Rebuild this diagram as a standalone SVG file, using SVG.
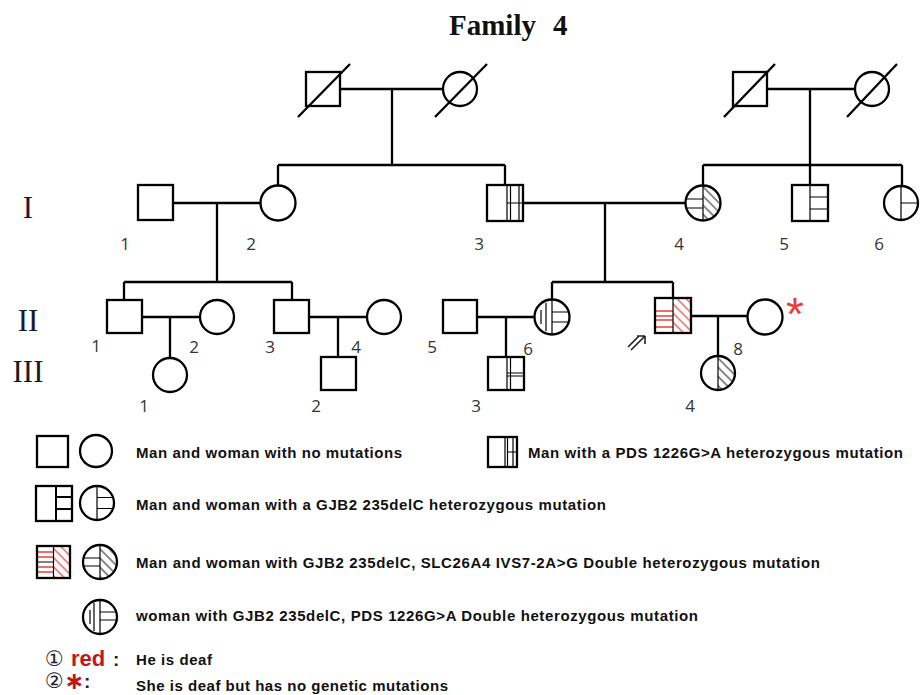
<svg xmlns="http://www.w3.org/2000/svg" width="920" height="695" viewBox="0 0 920 695">
<style>
.s{fill:#fff;stroke:#000;stroke-width:2.3}
.n{fill:none;stroke:#000;stroke-width:2.3}
.t{stroke:#000;stroke-width:1.2;fill:none}
.r{stroke:#e8403a;stroke-width:1.4;fill:none}
.c{stroke:#000;stroke-width:2.3;fill:none}
.lbl{font-family:"Open Sans","Liberation Sans",sans-serif;font-size:17px;fill:#333;text-anchor:middle}
.gen{font-family:"Liberation Serif",serif;font-size:31px;fill:#1a1a2a;text-anchor:middle}
.lg{font-family:"Liberation Sans",Arial,sans-serif;font-size:15px;font-weight:bold;fill:#111}
.ttl{font-family:"Liberation Serif",serif;font-weight:bold;font-size:29px;fill:#111}
.num{font-family:"DejaVu Sans",sans-serif;font-size:21px;fill:#222}
</style>
<defs>
<pattern id="hb" width="6.5" height="6.5" patternUnits="userSpaceOnUse" patternTransform="rotate(-45)"><line x1="1" y1="0" x2="1" y2="6.5" stroke="#000" stroke-width="0.9"/></pattern>
<pattern id="hr" width="6.5" height="6.5" patternUnits="userSpaceOnUse" patternTransform="rotate(-45)"><line x1="1" y1="0" x2="1" y2="6.5" stroke="#e8403a" stroke-width="1.2"/></pattern>
</defs>
<rect width="920" height="695" fill="#fff"/>
<text class="ttl" x="449" y="35">Family</text>
<text class="ttl" x="553" y="35">4</text>
<text class="gen" x="28" y="218">I</text>
<text class="gen" x="28" y="331">II</text>
<text class="gen" x="28" y="382">III</text>
<g id="connectors">
<path class="c" d="M340 89H443M392 89V165M278 165H505M278 165V186M505 165V185"/>
<path class="c" d="M767 89H855M810 89V165M703 165H902M703 165V186M810 165V185M902 165V186"/>
<path class="c" d="M173 203H260M217 203V282M124 282H292M124 282V300M292 282V300"/>
<path class="c" d="M507 203H685M605 203V282M552 282H673M552 282V300M673 282V298"/>
<path class="c" d="M142 317H200M170 317V358"/>
<path class="c" d="M309 317H367M338 317V357"/>
<path class="c" d="M477 317H535M506 317V357"/>
<path class="c" d="M691 316H748M718 316V356"/>
</g>
<g id="gp1-m"><rect class="s" x="306" y="72" width="34" height="34"/><line class="n" x1="298" y1="117" x2="350" y2="64"/></g>
<g id="gp1-f"><circle class="s" cx="460" cy="89" r="17"/><line class="n" x1="435" y1="117" x2="487" y2="64"/></g>
<g id="gp2-m"><rect class="s" x="733" y="72" width="34" height="34"/><line class="n" x1="724" y1="117" x2="775" y2="64"/></g>
<g id="gp2-f"><circle class="s" cx="872" cy="89" r="17"/><line class="n" x1="847" y1="117" x2="897" y2="64"/></g>
<g id="I-1"><rect class="s" x="138" y="185" width="35" height="35"/><text class="lbl" x="125" y="250">1</text></g>
<g id="I-2"><circle class="s" cx="278" cy="203" r="17.5"/><text class="lbl" x="251" y="250">2</text></g>
<g id="I-3"><rect class="s" x="487" y="185" width="36" height="36"/><path class="t" d="M507 185V221M510.5 185V221M519 185V221M507 203H523"/><text class="lbl" x="479" y="250">3</text></g>
<g id="I-4"><path d="M703 185.5A17.5 17.5 0 0 1 703 220.5Z" fill="url(#hb)"/><circle class="n" cx="703" cy="203" r="17.5"/><path class="t" d="M703 185.5V220.5M686 199H703M686.2 208H703"/><text class="lbl" x="679" y="250">4</text></g>
<g id="I-5"><rect class="s" x="792" y="185" width="36" height="36"/><path class="t" d="M810 185V221M810 197H828M810 209H828"/><text class="lbl" x="784" y="250">5</text></g>
<g id="I-6"><circle class="s" cx="901" cy="203" r="17"/><path class="t" d="M901 186V220M901 203H918"/><text class="lbl" x="879" y="250">6</text></g>
<g id="II-1"><rect class="s" x="107" y="300" width="35" height="33"/><text class="lbl" x="96" y="352">1</text></g>
<g id="II-2"><circle class="s" cx="217" cy="317" r="17"/><text class="lbl" x="194" y="353">2</text></g>
<g id="II-3"><rect class="s" x="274" y="300" width="35" height="33"/><text class="lbl" x="270" y="353">3</text></g>
<g id="II-4"><circle class="s" cx="384" cy="317" r="17"/><text class="lbl" x="356" y="353">4</text></g>
<g id="II-5"><rect class="s" x="443" y="300" width="34" height="33"/><text class="lbl" x="432" y="353">5</text></g>
<g id="II-6"><circle class="s" cx="552" cy="317" r="17.5"/><path class="t" d="M541 310V324M546 303V331M552 299.5V334.5M552 312H568.8M552 322H568.8"/><text class="lbl" x="528" y="355">6</text></g>
<g id="II-7"><rect x="655" y="298" width="36" height="35" fill="#fff"/><rect x="673" y="298" width="18" height="35" fill="url(#hr)"/><path class="r" d="M655 311H673M655 316H673M655 320H673M655 327H673"/><line class="t" x1="673" y1="298" x2="673" y2="333"/><rect class="n" x="655" y="298" width="36" height="35"/><path d="M631 350L645 336M645 336H637M645 336V344M628 347L639 336" stroke="#222" stroke-width="1.6" fill="none"/></g>
<g id="II-8"><circle class="s" cx="765" cy="317" r="17.5"/><text x="786" y="330" font-family="Liberation Sans,sans-serif" font-size="46" fill="#e8403a">*</text><text class="lbl" x="738" y="355">8</text></g>
<g id="III-1"><circle class="s" cx="170" cy="375" r="17"/><text class="lbl" x="144" y="412">1</text></g>
<g id="III-2"><rect class="s" x="321" y="357" width="35" height="33"/><text class="lbl" x="316" y="412">2</text></g>
<g id="III-3"><rect class="s" x="488" y="357" width="36" height="33"/><path class="t" d="M507 357V390M510.5 357V390M507 373H524M507 376H524"/><text class="lbl" x="476" y="412">3</text></g>
<g id="III-4"><path d="M718 356A17 17 0 0 1 718 390Z" fill="url(#hb)"/><circle class="n" cx="718" cy="373" r="17"/><line class="t" x1="718" y1="356" x2="718" y2="390"/><text class="lbl" x="690" y="412">4</text></g>
<g id="legend-none"><rect class="s" x="37" y="436" width="31" height="31"/><circle class="s" cx="96" cy="451" r="16"/><text class="lg" x="136" y="458" textLength="266" lengthAdjust="spacing">Man and woman with no mutations</text></g>
<g id="legend-pds"><rect class="s" x="488" y="437" width="29" height="30"/><path class="t" d="M505 437V467M507.5 437V467M513 437V467M507.5 452H517"/><text class="lg" x="528" y="458" textLength="375" lengthAdjust="spacing">Man with a PDS 1226G&gt;A  heterozygous  mutation</text></g>
<g id="legend-gjb2"><rect class="s" x="36" y="486" width="36" height="35"/><path d="M56 486V521M56 497H72M56 509H72" stroke="#000" stroke-width="2" fill="none"/><circle class="s" cx="97" cy="503" r="17"/><path class="t" d="M97 486V520M97 497.5H113M97 508.5H113"/><text class="lg" x="136" y="510" textLength="470" lengthAdjust="spacing">Man and woman with a GJB2 235delC heterozygous mutation</text></g>
<g id="legend-double"><rect x="37" y="546" width="33" height="32" fill="#fff"/><rect x="53.5" y="546" width="16.5" height="32" fill="url(#hr)"/><path class="r" d="M37 552H53.5M37 557H53.5M37 567H53.5M37 572H53.5"/><path class="t" d="M53.5 546V578M37 562H53.5"/><rect class="n" x="37" y="546" width="33" height="32"/><path d="M100 545A17 17 0 0 1 100 579Z" fill="url(#hb)"/><circle class="n" cx="100" cy="562" r="17"/><path class="t" d="M100 545V579M83.5 558H100M83.5 566H100"/><text class="lg" x="136" y="568" textLength="684" lengthAdjust="spacing">Man and woman with GJB2 235delC, SLC26A4 IVS7-2A&gt;G Double heterozygous mutation</text></g>
<g id="legend-pdsgjb2"><circle class="s" cx="100" cy="617" r="17"/><path class="t" d="M90 610V624M94 603V631M100 600V634M100 612H116.3M100 620H116.6"/><text class="lg" x="136" y="621" textLength="562" lengthAdjust="spacing">woman with GJB2 235delC, PDS 1226G&gt;A Double heterozygous mutation</text></g>
<g id="legend-red"><text class="num" x="45" y="666">①</text><text x="71" y="666" font-family="Liberation Sans,sans-serif" font-weight="bold" font-size="22" fill="#c0161c">red</text><text x="113" y="666" font-family="Liberation Sans,sans-serif" font-weight="bold" font-size="19" fill="#222">:</text><text class="lg" x="136" y="665" textLength="76" lengthAdjust="spacing">He is deaf</text></g>
<g id="legend-star"><text class="num" x="45" y="688">②</text><text x="64" y="689" font-family="DejaVu Sans,sans-serif" font-weight="bold" font-size="24" fill="#c0161c">∗</text><text x="84" y="688" font-family="Liberation Sans,sans-serif" font-weight="bold" font-size="19" fill="#222">:</text><text class="lg" x="136" y="691" textLength="312" lengthAdjust="spacing">She is deaf but has no genetic mutations</text></g>
</svg>
